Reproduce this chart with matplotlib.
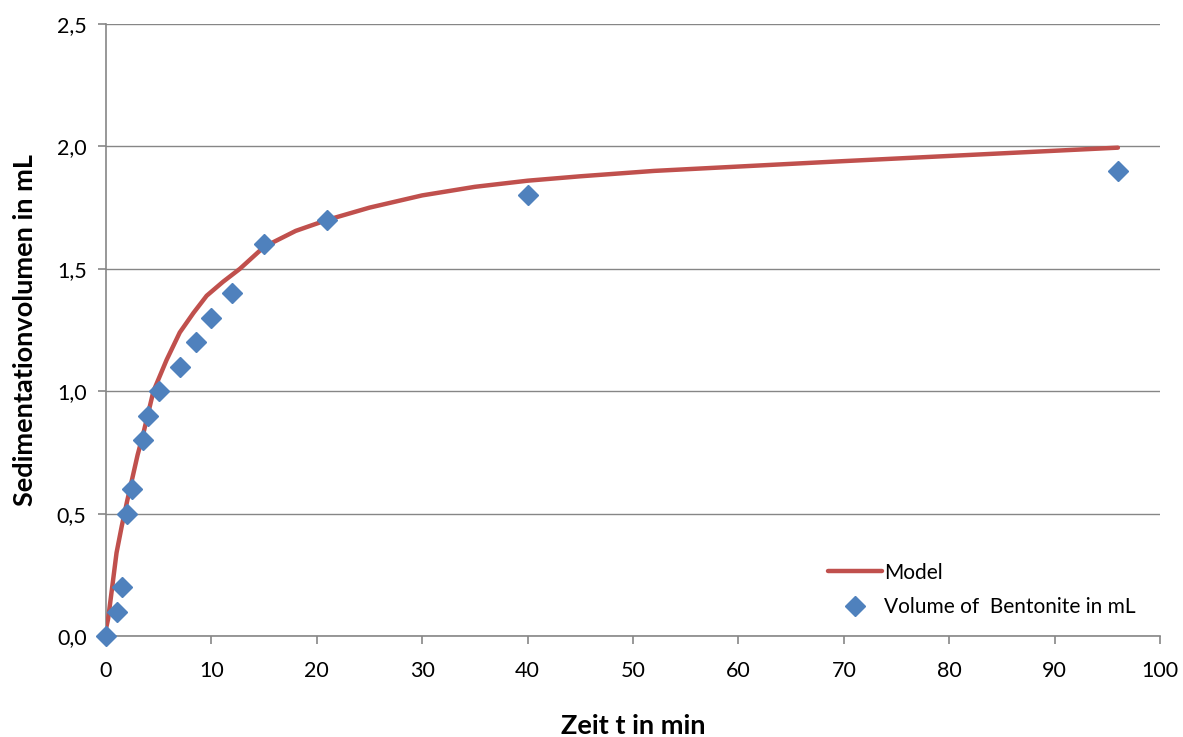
import matplotlib
matplotlib.use("Agg")
import matplotlib.pyplot as plt
from matplotlib.ticker import FuncFormatter

plt.rcParams['font.family'] = ['Lato', 'DejaVu Sans']

# Measured data
t_data = [0, 1, 1.5, 2, 2.5, 3.5, 4, 5, 7, 8.5, 10, 12, 15, 21, 40, 96]
v_data = [0.0, 0.1, 0.2, 0.5, 0.6, 0.8, 0.9, 1.0, 1.1, 1.2, 1.3, 1.4, 1.6, 1.7, 1.8, 1.9]

# Model curve
t_model = [0, 0.2, 0.5, 1, 1.5, 2, 2.5, 3, 3.5, 4.5, 5.75, 7, 8.3, 9.55, 11.1, 12.7,
           15, 18, 21, 25, 30, 35, 40, 45, 52, 70, 96]
v_model = [0.03, 0.07, 0.17, 0.34, 0.45, 0.55, 0.645, 0.74, 0.82, 1.0, 1.128, 1.24, 1.32,
           1.39, 1.447, 1.50, 1.59, 1.655, 1.70, 1.75, 1.80, 1.835, 1.86, 1.878, 1.90,
           1.94, 1.995]

x_ticks = list(range(0, 101, 10))
y_ticks = [0, 0.5, 1.0, 1.5, 2.0, 2.5]

fig = plt.figure(figsize=(11.83, 7.37), dpi=100)
ax = fig.add_axes([0.0896, 0.137, 0.8910, 0.8304])

grid_c = '#868686'
ax.plot(t_model, v_model, color='#C0504D', lw=3.2, label='Model', zorder=3,
        solid_capstyle='round', solid_joinstyle='round')
ax.plot(t_data, v_data, ls='none', marker='D', ms=10.5, color='#4F81BD',
        label='Volume of  Bentonite in mL', zorder=4, clip_on=False)

ax.set_xlim(0, 100)
ax.set_ylim(0, 2.5)
ax.set_xticks(x_ticks)
ax.set_yticks(y_ticks)
ax.yaxis.set_major_formatter(FuncFormatter(lambda v, p: f"{v:.1f}".replace('.', ',')))
ax.grid(axis='y', color=grid_c, lw=1)
ax.set_axisbelow(True)
for s in ['top', 'right']:
    ax.spines[s].set_visible(False)
for s in ['left', 'bottom']:
    ax.spines[s].set_color(grid_c)
    ax.spines[s].set_linewidth(1.2)
ax.tick_params(axis='both', colors=grid_c, labelcolor='black', labelsize=15.5,
               length=6, width=1.2, direction='out')
ax.tick_params(axis='x', pad=12)
ax.tick_params(axis='y', pad=8)

ax.set_xlabel('Zeit t in min', fontsize=19.5, fontweight='bold', labelpad=24)
ax.set_ylabel('Sedimentationvolumen in mL', fontsize=19.5, fontweight='bold', labelpad=14)

leg = ax.legend(loc='lower right', bbox_to_anchor=(0.995, 0.0), frameon=False,
                fontsize=15, handlelength=2.6, handletextpad=0.1,
                labelspacing=0.7)

fig.savefig('out.png', dpi=100)
